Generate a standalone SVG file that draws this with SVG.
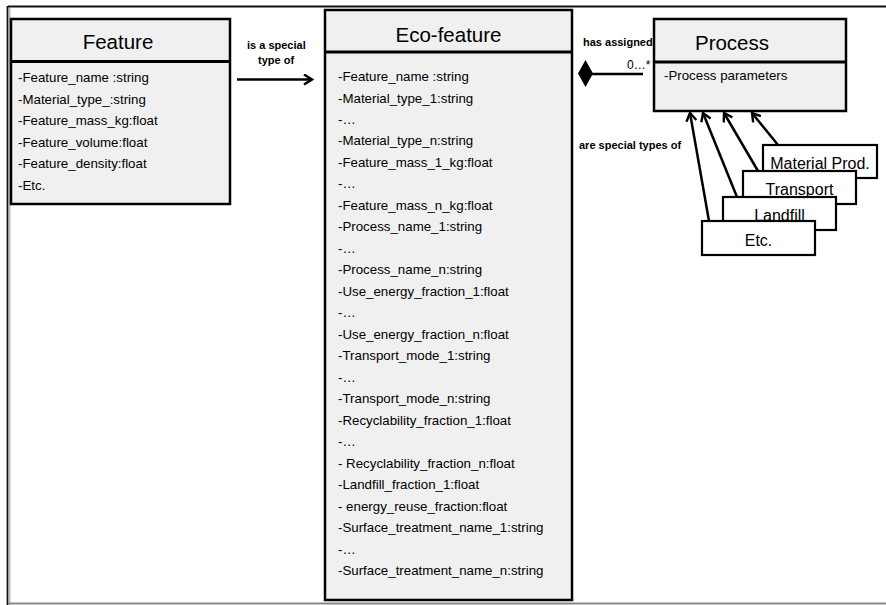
<svg xmlns="http://www.w3.org/2000/svg" width="886" height="605" viewBox="0 0 886 605">
<defs>
<style>
.box{fill:#f0f0f0;stroke:#000;stroke-width:2.5}
.sub{fill:#fff;stroke:#000;stroke-width:2.2}
.div{stroke:#000;stroke-width:3}
.title{font-family:"Liberation Sans",Arial,sans-serif;font-size:20.5px;fill:#000;text-anchor:middle}
.attr{font-family:"Liberation Sans",Arial,sans-serif;font-size:13.3px;fill:#000}
.lbl{font-family:"Liberation Sans",Arial,sans-serif;font-size:11px;font-weight:bold;fill:#000}
.subt{font-family:"Liberation Sans",Arial,sans-serif;font-size:16px;fill:#000;text-anchor:middle}
.conn{stroke:#000;stroke-width:2.5;fill:none}
</style>
<marker id="open" viewBox="0 0 12 12" refX="10" refY="6" markerWidth="12" markerHeight="12" markerUnits="userSpaceOnUse" orient="auto">
<path d="M2,1 L10,6 L2,11" fill="none" stroke="#000" stroke-width="2.4"/>
</marker>
</defs>

<g id="frame">
<line x1="8" y1="6.5" x2="886" y2="6.5" stroke="#111" stroke-width="2"/>
<line x1="7.5" y1="6" x2="7.5" y2="605" stroke="#111" stroke-width="1.8"/>
<line x1="9.8" y1="8" x2="9.8" y2="605" stroke="#999" stroke-width="1"/>
<line x1="8" y1="603.5" x2="886" y2="603.5" stroke="#888" stroke-width="2"/>
</g>

<g id="feature">
<rect class="box" x="11" y="19" width="219" height="185"/>
<line class="div" x1="11" y1="61.5" x2="230" y2="61.5"/>
<text class="title" x="118" y="49">Feature</text>
<text class="attr" x="18" y="82">-Feature_name :string</text>
<text class="attr" x="18" y="103.5">-Material_type_:string</text>
<text class="attr" x="18" y="125">-Feature_mass_kg:float</text>
<text class="attr" x="18" y="146.5">-Feature_volume:float</text>
<text class="attr" x="18" y="168">-Feature_density:float</text>
<text class="attr" x="18" y="189.5">-Etc.</text>
</g>

<g id="eco-feature">
<rect class="box" x="325" y="10" width="247" height="590"/>
<line class="div" x1="325" y1="52" x2="572" y2="52"/>
<text class="title" x="448.5" y="42">Eco-feature</text>
<text class="attr" x="338" y="81">-Feature_name :string</text>
<text class="attr" x="338" y="102.5">-Material_type_1:string</text>
<text class="attr" x="338" y="124">-…</text>
<text class="attr" x="338" y="145.4">-Material_type_n:string</text>
<text class="attr" x="338" y="166.9">-Feature_mass_1_kg:float</text>
<text class="attr" x="338" y="188.4">-…</text>
<text class="attr" x="338" y="209.9">-Feature_mass_n_kg:float</text>
<text class="attr" x="338" y="231.4">-Process_name_1:string</text>
<text class="attr" x="338" y="252.8">-…</text>
<text class="attr" x="338" y="274.3">-Process_name_n:string</text>
<text class="attr" x="338" y="295.8">-Use_energy_fraction_1:float</text>
<text class="attr" x="338" y="317.3">-…</text>
<text class="attr" x="338" y="338.8">-Use_energy_fraction_n:float</text>
<text class="attr" x="338" y="360.2">-Transport_mode_1:string</text>
<text class="attr" x="338" y="381.7">-…</text>
<text class="attr" x="338" y="403.2">-Transport_mode_n:string</text>
<text class="attr" x="338" y="424.7">-Recyclability_fraction_1:float</text>
<text class="attr" x="338" y="446.2">-…</text>
<text class="attr" x="338" y="467.6">- Recyclability_fraction_n:float</text>
<text class="attr" x="338" y="489.1">-Landfill_fraction_1:float</text>
<text class="attr" x="338" y="510.6">- energy_reuse_fraction:float</text>
<text class="attr" x="338" y="532.1">-Surface_treatment_name_1:string</text>
<text class="attr" x="338" y="553.6">-…</text>
<text class="attr" x="338" y="575">-Surface_treatment_name_n:string</text>
</g>

<g id="process">
<rect class="box" x="654" y="19" width="192" height="92"/>
<line class="div" x1="654" y1="62" x2="846" y2="62"/>
<text class="title" x="732" y="50">Process</text>
<text class="attr" x="664" y="80">-Process parameters</text>
</g>

<g id="material-prod">
<rect class="sub" x="763" y="145" width="114" height="33"/>
<text class="subt" x="820" y="169">Material Prod.</text>
</g>
<g id="transport">
<rect class="sub" x="743" y="171" width="113" height="33"/>
<text class="subt" x="799.5" y="195">Transport</text>
</g>
<g id="landfill">
<rect class="sub" x="723" y="197" width="113" height="33"/>
<text class="subt" x="779.5" y="221">Landfill</text>
</g>
<g id="etc">
<rect class="sub" x="702" y="221" width="113" height="34"/>
<text class="subt" x="758.5" y="246">Etc.</text>
</g>

<g id="connectors">
<line class="conn" x1="237" y1="79.5" x2="312" y2="79.5" marker-end="url(#open)"/>
<text class="lbl" x="247" y="49">is a special</text>
<text class="lbl" x="258" y="64">type of</text>

<line class="conn" x1="592" y1="74" x2="643" y2="74"/>
<path d="M578,73.5 L585.5,60 L593,73.5 L585.5,87 Z" fill="#000"/>
<text class="lbl" x="583" y="46">has assigned</text>
<text x="627" y="69" font-family="Liberation Sans,Arial,sans-serif" font-size="12px">0…*</text>

<text class="lbl" x="579" y="149">are  special types of</text>
<line class="conn" x1="778" y1="145" x2="752" y2="113" marker-end="url(#open)"/>
<line class="conn" x1="758" y1="171" x2="724" y2="113" marker-end="url(#open)"/>
<line class="conn" x1="737" y1="197" x2="703" y2="113" marker-end="url(#open)"/>
<line class="conn" x1="709" y1="221" x2="690" y2="113" marker-end="url(#open)"/>
</g>
</svg>
